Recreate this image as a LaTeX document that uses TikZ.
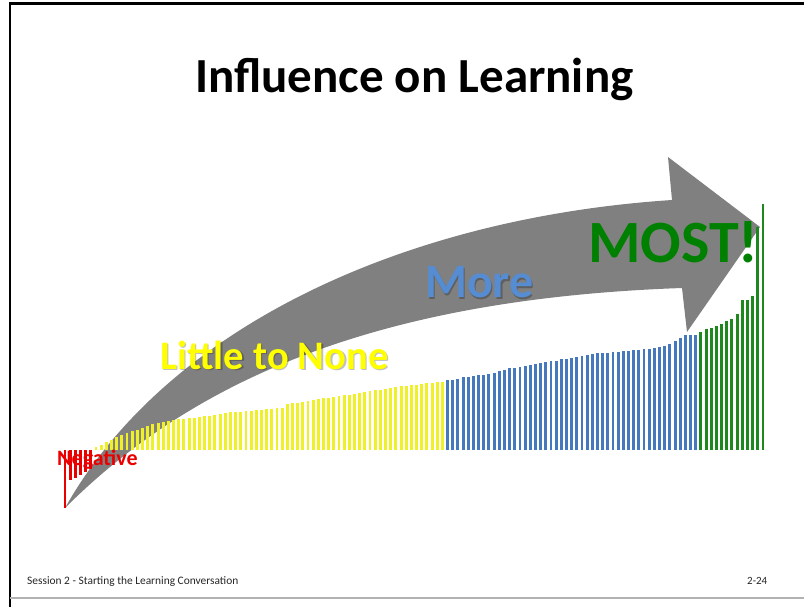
\documentclass[tikz,border=0pt]{standalone}
\usepackage{fontspec}
\setmainfont{Carlito}
\definecolor{arrowgray}{RGB}{128,128,128}
\definecolor{negred}{RGB}{235,0,0}
\definecolor{ylw}{RGB}{240,240,40}
\definecolor{blu}{RGB}{70,120,190}
\definecolor{grn}{RGB}{30,135,30}
\definecolor{txtylw}{RGB}{255,255,0}
\definecolor{txtblu}{RGB}{85,140,210}
\definecolor{txtgrn}{RGB}{0,128,0}
\begin{document}
\begin{tikzpicture}[x=1pt,y=-1pt,
  lbl/.style={inner sep=0pt,anchor=base west,font=\bfseries},
  shadowed/.style={inner sep=0pt,anchor=base west,font=\bfseries,text=black,opacity=0.25}]
\useasboundingbox (0,0) rectangle (804,607);
\fill[white] (0,0) rectangle (804,607);
% slide frame
\draw[line width=2.8pt] (10,607) -- (10,3.5) -- (804,3.5);
\draw[gray!60,line width=2pt] (10,598) -- (804,598);
% big curved arrow
\fill[arrowgray] (65,508) .. controls (165,330) and (400,218) .. (672,200)
  -- (668,157) -- (760,227) -- (687,332) -- (682,288)
  .. controls (400,298) and (205,368) .. (65,508) -- cycle;
% bars
\foreach \h [count=\i from 0] in {-58,-30,-28,-25,-22,-19,
  3,5,8,10,13,15,17,19,20,22,24,26,27,28,29,30,31,31,32,32,33,34,34,35,36,37,38,38,38,39,39,40,40,41,41,42,42,46,47,47,48,49,50,51,52,52,53,54,55,55,56,57,58,59,60,60,61,62,63,64,64,65,65,66,67,67,68,68,
  70,70,71,73,73,74,75,75,76,77,79,80,82,82,83,84,85,86,87,88,89,89,91,91,92,93,94,95,96,97,97,97,98,98,99,99,100,100,101,101,102,103,104,106,109,112,115,115,115,
  118,121,122,124,126,129,131,136,150,150,154,223,246}{
  \ifnum\i<6 \def\bc{negred}\else\ifnum\i<74 \def\bc{ylw}\else\ifnum\i<123 \def\bc{blu}\else\def\bc{grn}\fi\fi\fi
  \pgfmathsetmacro\xx{65+5.17*\i}
  \draw[\bc,line width=2.9pt] (\xx,450) -- (\xx,{450-(\h)});
}
% labels
\node[shadowed,font=\bfseries\fontsize{49}{49}\selectfont,opacity=1] (title) at (195,93) {Influence on Learning};
\node[shadowed,font=\bfseries\fontsize{40.5}{40.5}\selectfont] at (161.5,370.5) {Little to None};
\node[lbl,text=txtylw,font=\bfseries\fontsize{40.5}{40.5}\selectfont] (little) at (160,369) {Little to None};
\node[shadowed,font=\bfseries\fontsize{48}{48}\selectfont] at (426.5,299.5) {More};
\node[lbl,text=txtblu,font=\bfseries\fontsize{48}{48}\selectfont] (more) at (425,298) {More};
\node[lbl,text=txtgrn,font=\bfseries\fontsize{60}{60}\selectfont] (most) at (588,262) {MOST!};
\node[lbl,text=negred,font=\bfseries\fontsize{22}{22}\selectfont] (negative) at (57,465) {Negative};
\node[inner sep=0pt,anchor=base west,text=black!85,font=\fontsize{11.4}{11.4}\selectfont] (footer) at (27,584) {Session 2 - Starting the Learning Conversation};
\node[inner sep=0pt,anchor=base west,text=black!85,font=\fontsize{11}{11}\selectfont] (page) at (747,584) {2-24};
\end{tikzpicture}
\end{document}
